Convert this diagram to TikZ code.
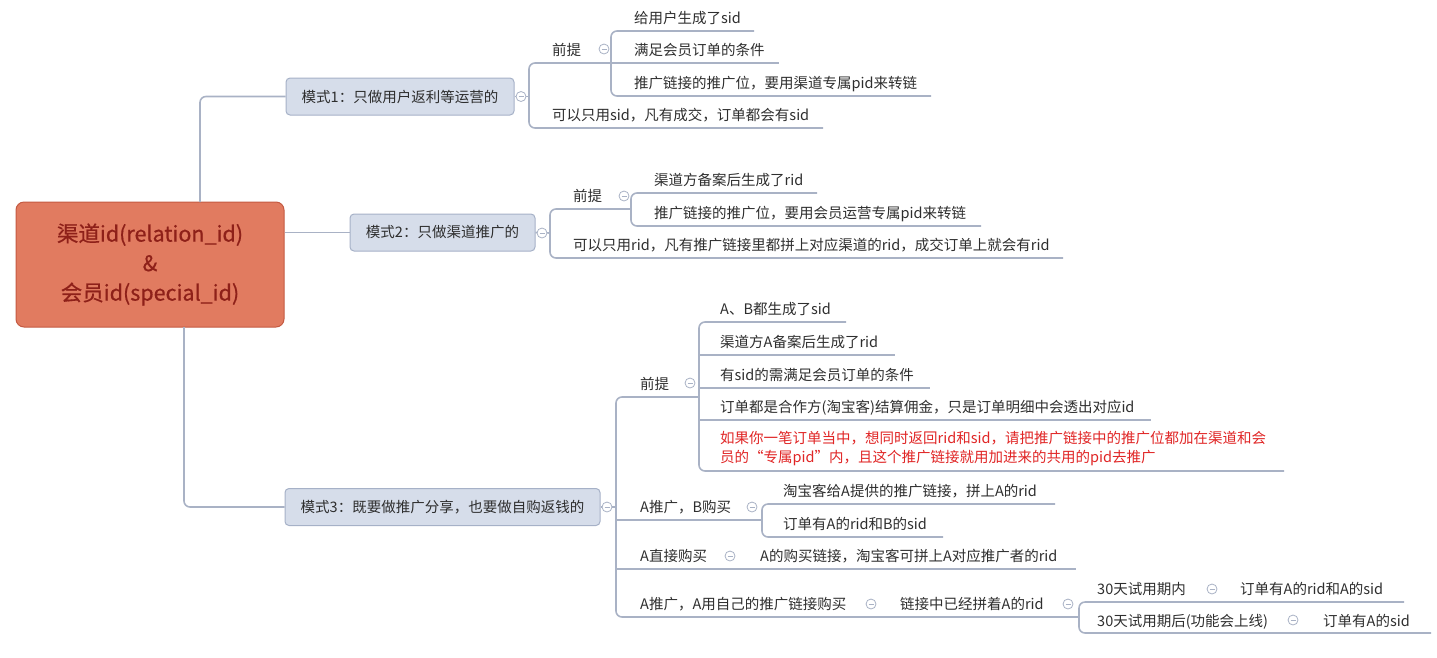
\documentclass[tikz,border=0pt]{standalone}
\usepackage{fontspec}
\setmainfont{Noto Sans CJK SC}
\newfontfamily\rootfont[FakeBold=0.6]{Noto Sans CJK SC}
\definecolor{ln}{HTML}{A9B2C5}
\definecolor{boxf}{HTML}{D6DDEA}
\definecolor{boxd}{HTML}{A6B1C7}
\definecolor{rootf}{HTML}{E17B60}
\definecolor{rootd}{HTML}{C45A42}
\definecolor{roott}{HTML}{8E2019}
\definecolor{txt}{HTML}{2E2E2E}
\definecolor{redt}{HTML}{E02525}
\newcommand\lf{\fontsize{14.5}{19}\selectfont}
\tikzset{
  conn/.style={draw=ln, line width=1.6, rounded corners=6},
  modebox/.style={draw=boxd, fill=boxf, rounded corners=4, line width=1, minimum height=37, inner sep=0, font=\lf, text=txt},
  leaf/.style={anchor=base west, inner sep=0, font=\lf, text=txt},
  fold/.style={circle, draw=ln, fill=white, minimum size=10, inner sep=0, line width=0.8,
    path picture={\draw[ln, line width=0.8] ([xshift=-2.5]path picture bounding box.center) -- ([xshift=2.5]path picture bounding box.center);}},
}
\begin{document}
\begin{tikzpicture}[x=1pt,y=-1pt]
\useasboundingbox (0,0) rectangle (1437,657);

% root
\node[draw=rootd, fill=rootf, rounded corners=8, line width=1, minimum width=268, minimum height=125, inner sep=0,
  text=roott, align=center, font=\rootfont\fontsize{21.5}{29.5}\selectfont] (root) at (150,264.5)
  {渠道id(relation\_id)\\\&\\会员id(special\_id)};

% mode boxes
\node[modebox, minimum width=228] (m1) at (400,96.5) {模式1：只做用户返利等运营的};
\node[modebox, minimum width=185] (m2) at (442.5,232.5) {模式2：只做渠道推广的};
\node[modebox, minimum width=315] (m3) at (442.5,507) {模式3：既要做推广分享，也要做自购返钱的};

% root connectors
\coordinate (r1) at (200,202);
\coordinate (r3) at (184,327);
\draw[conn] (r1) |- (m1.west);
\draw[conn, rounded corners=0] (root.east |- m2.west) -- (m2.west);
\draw[conn] (r3) |- (m3.west);

% ================= mode 1 =================
\coordinate (b1t) at (529,63);
\draw[conn] (m1.east) -- (529,96.5);
\draw[conn] (611,63) -- (b1t) -- (529,128) -- (823,128);
\node[leaf] (p1) at (552,55) {前提};
\node[leaf] (b1) at (552,120) {可以只用sid，凡有成交，订单都会有sid};
\draw[conn] (754,31) -- (611,31) -- (611,96) -- (931,96);
\draw[conn] (611,63) -- (779,63);
\node[leaf] (a1) at (634,23) {给用户生成了sid};
\node[leaf] (a2) at (634,55) {满足会员订单的条件};
\node[leaf] (a3) at (634,88) {推广链接的推广位，要用渠道专属pid来转链};
\node[fold] (f1) at (521,96.5) {};
\node[fold] (fp1) at (604,49) {};

% ================= mode 2 =================
\draw[conn] (m2.east) -- (550,233);
\draw[conn] (631,209) -- (550,209) -- (550,258) -- (1063,258);
\node[leaf] (p2) at (573,201) {前提};
\node[leaf] (d2) at (573,250) {可以只用rid，凡有推广链接里都拼上对应渠道的rid，成交订单上就会有rid};
\draw[conn] (817,193) -- (631,193) -- (631,226) -- (981,226);
\node[leaf] (c1) at (654,185) {渠道方备案后生成了rid};
\node[leaf] (c2) at (654,218) {推广链接的推广位，要用会员运营专属pid来转链};
\node[fold] (f2) at (542,233) {};
\node[fold] (fp2) at (624,196) {};

% ================= mode 3 =================
\draw[conn] (m3.east) -- (616,507);
\draw[conn] (699,397) -- (616,397) -- (616,617) -- (1079,617);
\draw[conn] (616,520) -- (762,520);
\draw[conn] (616,569) -- (1076,569);
\node[leaf] (p3) at (640,389) {前提};
\node[leaf] (g3) at (640,512) {A推广，B购买};
\node[leaf] (h3) at (640,561) {A直接购买};
\node[leaf] (h3b) at (760,561) {A的购买链接，淘宝客可拼上A对应推广者的rid};
\node[leaf] (k3) at (640,609) {A推广，A用自己的推广链接购买};
\node[leaf] (k3b) at (900,609) {链接中已经拼着A的rid};

% 前提 children
\draw[conn] (846,322) -- (699,322) -- (699,471) -- (1284,471);
\draw[conn] (699,355) -- (895,355);
\draw[conn] (699,388) -- (930,388);
\draw[conn] (699,420) -- (1151,420);
\node[leaf] (e1) at (720,314) {A、B都生成了sid};
\node[leaf] (e2) at (720,347) {渠道方A备案后生成了rid};
\node[leaf] (e3) at (720,380) {有sid的需满足会员订单的条件};
\node[leaf] (e4) at (720,412) {订单都是合作方(淘宝客)结算佣金，只是订单明细中会透出对应id};
\node[leaf, text=redt, anchor=north west, align=left] (e5) at (720,431)
  {如果你一笔订单当中，想同时返回rid和sid，请把推广链接中的推广位都加在渠道和会\\员的“专属pid”内，且这个推广链接就用加进来的共用的pid去推广};

% A推广，B购买 children
\draw[conn] (1055,504) -- (762,504) -- (762,537) -- (943,537);
\node[leaf] (g1) at (783,496) {淘宝客给A提供的推广链接，拼上A的rid};
\node[leaf] (g2) at (783,529) {订单有A的rid和B的sid};

% 30天 children
\draw[conn] (1404,602) -- (1079,602) -- (1079,633) -- (1431,633);
\node[leaf] (i1) at (1097,594) {30天试用期内};
\node[leaf] (i1b) at (1240,594) {订单有A的rid和A的sid};
\node[leaf] (i2) at (1097,626) {30天试用期后(功能会上线)};
\node[leaf] (i2b) at (1323,626) {订单有A的sid};

% fold markers
\node[fold] (f3) at (607,507) {};
\node[fold] (fp3) at (690,383) {};
\node[fold] (fg) at (752,507) {};
\node[fold] (fh) at (730,556) {};
\node[fold] (fk) at (871,604) {};
\node[fold] (fk2) at (1068,604) {};
\node[fold] (fi1) at (1212,589) {};
\node[fold] (fi2) at (1293,620) {};
\end{tikzpicture}
\end{document}
